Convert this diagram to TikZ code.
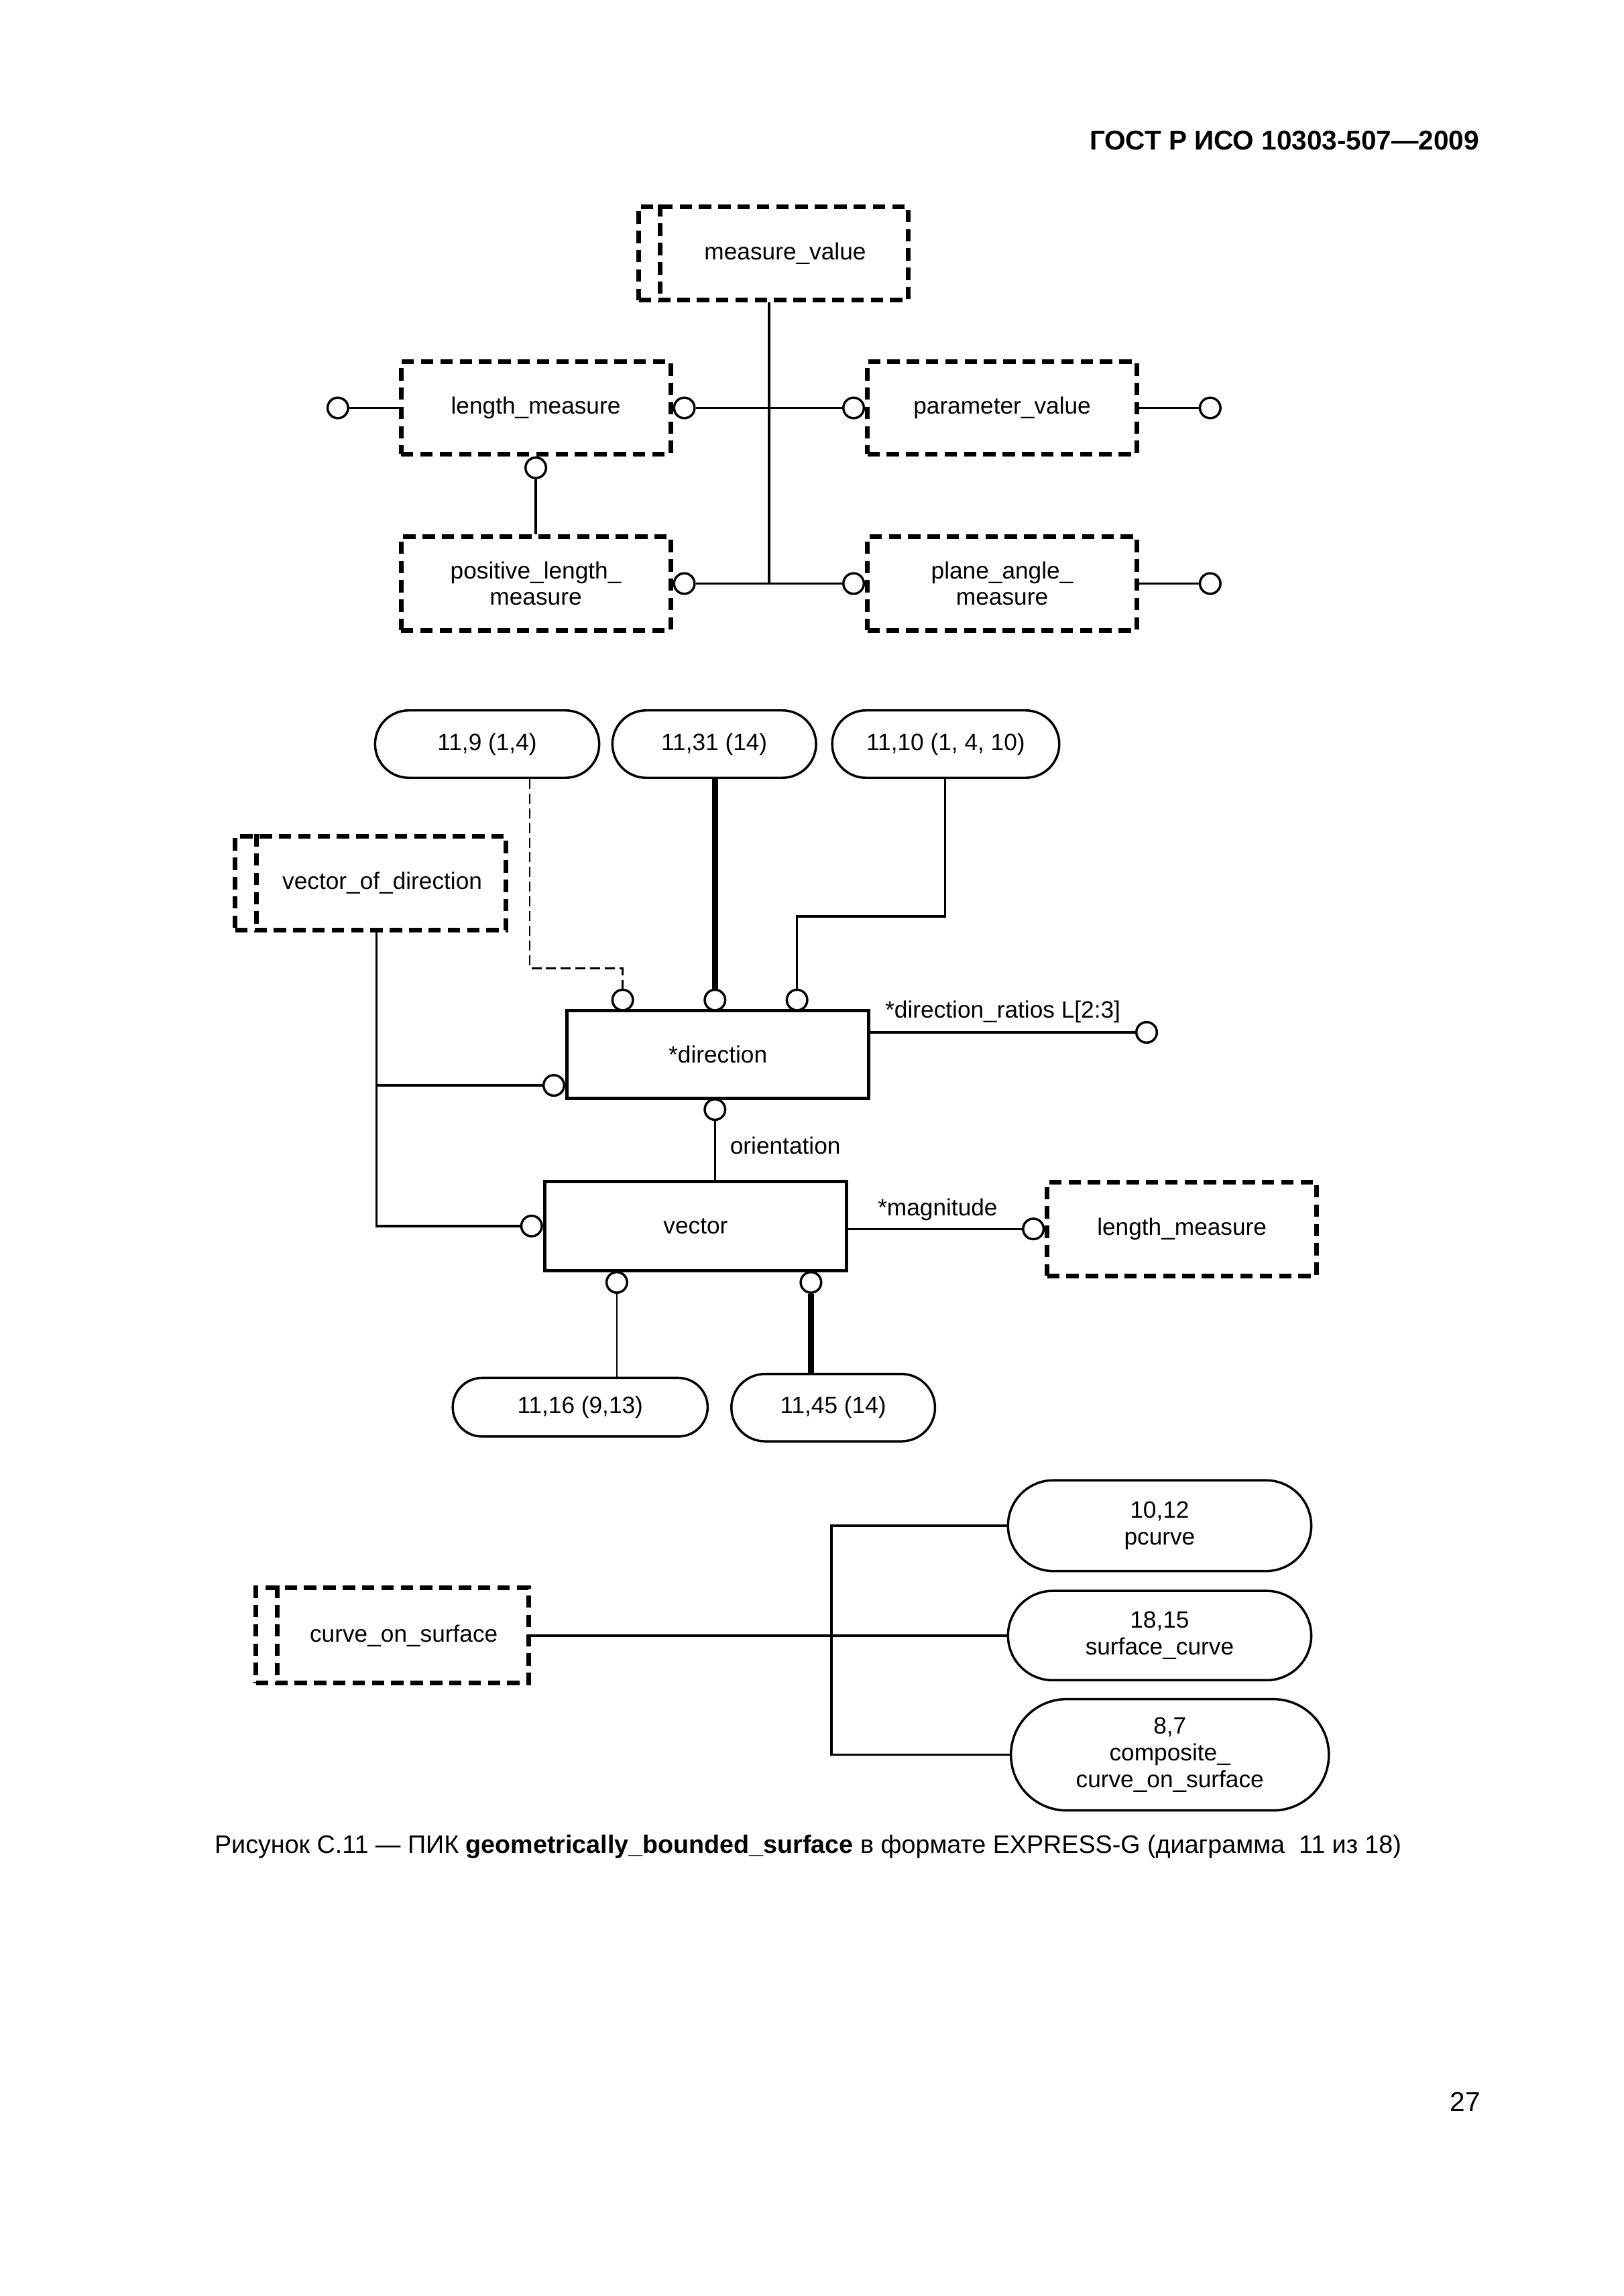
\documentclass[tikz,border=0pt]{standalone}
\usepackage{fontspec}
\setmainfont{Liberation Sans}
\usetikzlibrary{shapes.misc}
\newcommand\dfont{\fontsize{8.7pt}{9.8pt}\selectfont}
\def\U{0.18953mm}
\begin{document}
\begin{tikzpicture}[x=0.18953mm,y=-0.18953mm,
  every node/.style={font=\dfont, inner sep=0pt},
  sz/.style 2 args={minimum width=#1*\U, minimum height=#2*\U},
  dbox/.style={draw, line width=0.6mm, dash pattern=on 1.6mm off 0.9mm, align=center},
  ebox/.style={draw, line width=0.45mm, align=center},
  rbox/.style={rounded rectangle, draw, line width=0.3mm, align=center},
  oc/.style={circle, draw, line width=0.3mm, fill=white, minimum size=14*\U},
  conn/.style={line width=0.3mm},
  thk/.style={line width=0.75mm},
  thinconn/.style={line width=0.22mm},
  dconn/.style={line width=0.22mm, dash pattern=on 1.3mm off 0.6mm},
  selbar/.style={line width=0.6mm, dash pattern=on 1.6mm off 0.9mm},
]
\useasboundingbox (0,0) rectangle (1108,1567.5);

% header
\node[anchor=east, font=\fontsize{10pt}{12pt}\selectfont\bfseries] (hdr) at (1010,96) {ГОСТ Р ИСО 10303-507—2009};

% ---------- top section ----------
\node[dbox,sz={184}{64}] (mv) at (528,173) {\hspace*{3mm}measure\_value};
\draw[selbar] ([xshift=16*\U]mv.north west) -- ([xshift=16*\U]mv.south west);
\node[dbox,sz={184}{63}] (lm1) at (365.7,278.5) {length\_measure};
\node[dbox,sz={184}{63}] (pv) at (684,278.5) {parameter\_value};
\node[dbox,sz={184}{64}] (plm) at (365.7,398.4) {positive\_length\_\\measure};
\node[dbox,sz={184}{64}] (pam) at (684,398.4) {plane\_angle\_\\measure};

\coordinate (j1) at (525,398.4);
\draw[conn] (j1 |- mv.south) -- (j1);

\node[oc] (c1) at (230.6,278.5) {};
\node[oc,anchor=west] (c2) at (lm1.east) {};
\node[oc,anchor=east] (c3) at (pv.west) {};
\node[oc] (c4) at (826,278.5) {};
\node[oc,anchor=north] (c5) at (lm1.south) {};
\node[oc,anchor=west] (c6) at (plm.east) {};
\node[oc,anchor=east] (c7) at (pam.west) {};
\node[oc] (c8) at (826,398.4) {};

\draw[conn] (c1) -- (lm1.west);
\draw[conn] (c2) -- (c3);
\draw[conn] (pv.east) -- (c4);
\draw[conn] (c5) -- (plm.north);
\draw[conn] (c6) -- (c7);
\draw[conn] (pam.east) -- (c8);

% ---------- middle section ----------
\node[rbox,sz={153}{46}] (r1) at (332.5,508) {11,9 (1,4)};
\node[rbox,sz={139}{46}] (r2) at (487.5,508) {11,31 (14)};
\node[rbox,sz={155}{46}] (r3) at (645.5,508) {11,10 (1, 4, 10)};

\node[dbox,sz={185}{64}] (vod) at (253,603) {\hspace*{3mm}vector\_of\_direction};
\draw[selbar] ([xshift=16*\U]vod.north west) -- ([xshift=16*\U]vod.south west);

\node[ebox,sz={206}{60}] (dir) at (490,720) {*direction};
\node[ebox,sz={206}{61}] (vec) at (474.8,837) {vector};
\node[dbox,sz={184}{64}] (lm2) at (806.7,839) {length\_measure};

\node[rbox,sz={174}{40}] (r4) at (396,960.7) {11,16 (9,13)};
\node[rbox,sz={139}{46}] (r5) at (568.7,961) {11,45 (14)};

% circles on *direction
\node[oc] (cd1) at (425,682.7) {};
\node[oc] (cd2) at (488,682.7) {};
\node[oc] (cd3) at (544,682.7) {};
\node[oc,anchor=east] (cdl) at (dir.west |- 0,741) {};
\node[oc,anchor=north] (cdb) at (488,749.7) {};
\node[oc] (cdr) at (782.6,704.8) {};
% circles on vector
\node[oc,anchor=east] (cvl) at (vec.west) {};
\node[oc,anchor=north] (cb1) at (421,867.7) {};
\node[oc,anchor=north] (cb2) at (553.5,867.7) {};
\node[oc,anchor=east] (cm) at (lm2.west) {};

% connectors
\coordinate (k1) at (361.6,661);
\draw[dconn] (k1 |- r1.south) -- (k1) -| (cd1.north);
\draw[thk] (cd2.north |- r2.south) -- (cd2.north);
\coordinate (k2) at (645,625.7);
\draw[conn] (k2 |- r3.south) -- (k2) -| (cd3.north);
\draw[conn] (cdr.west -| dir.east) -- (cdr.west);
\node (lbdr) at (684.5,691) {*direction\_ratios L[2:3]};

\coordinate (k3) at (257,741);
\draw[conn] (k3 |- vod.south) -- (k3 |- cvl.west) -- (cvl.west);
\draw[conn] (k3) -- (cdl.west);

\draw[conn] (cdb.south) -- (cdb.south |- vec.north);
\node (lbor) at (536,782) {orientation};

\draw[conn] (cm.west -| vec.east) -- (cm.west);
\node (lbmg) at (640,826) {*magnitude};

\draw[thinconn] (cb1.south) -- (cb1.south |- r4.north);
\draw[thk] (cb2.south) -- (cb2.south |- r5.north);

% ---------- bottom section ----------
\node[dbox,sz={186}{65}] (cos) at (267.7,1116.6) {\hspace*{3mm}curve\_on\_surface};
\draw[selbar] ([xshift=16*\U]cos.north west) -- ([xshift=16*\U]cos.south west);

\node[rbox,sz={207}{62}] (p1) at (791.5,1041.6) {10,12\\pcurve};
\node[rbox,sz={207}{61}] (p2) at (791.5,1116.6) {18,15\\surface\_curve};
\node[rbox,sz={217}{76}] (p3) at (798.5,1198) {8,7\\composite\_\\curve\_on\_surface};

\coordinate (k5) at (567.5,0);
\draw[conn] (cos.east) -- (p2.west);
\draw[conn] (p1.west) -- (p1.west -| k5) -- (p3.west -| k5) -- (p3.west);

% caption and page number
\node[font=\fontsize{9.3pt}{11pt}\selectfont] (cap) at (551.5,1261) {Рисунок С.11 — ПИК \textbf{geometrically\_bounded\_surface} в формате EXPRESS-G (диаграмма~~11 из 18)};
\node[font=\fontsize{10pt}{12pt}\selectfont] (pg) at (1000,1435) {27};
\end{tikzpicture}
\end{document}
